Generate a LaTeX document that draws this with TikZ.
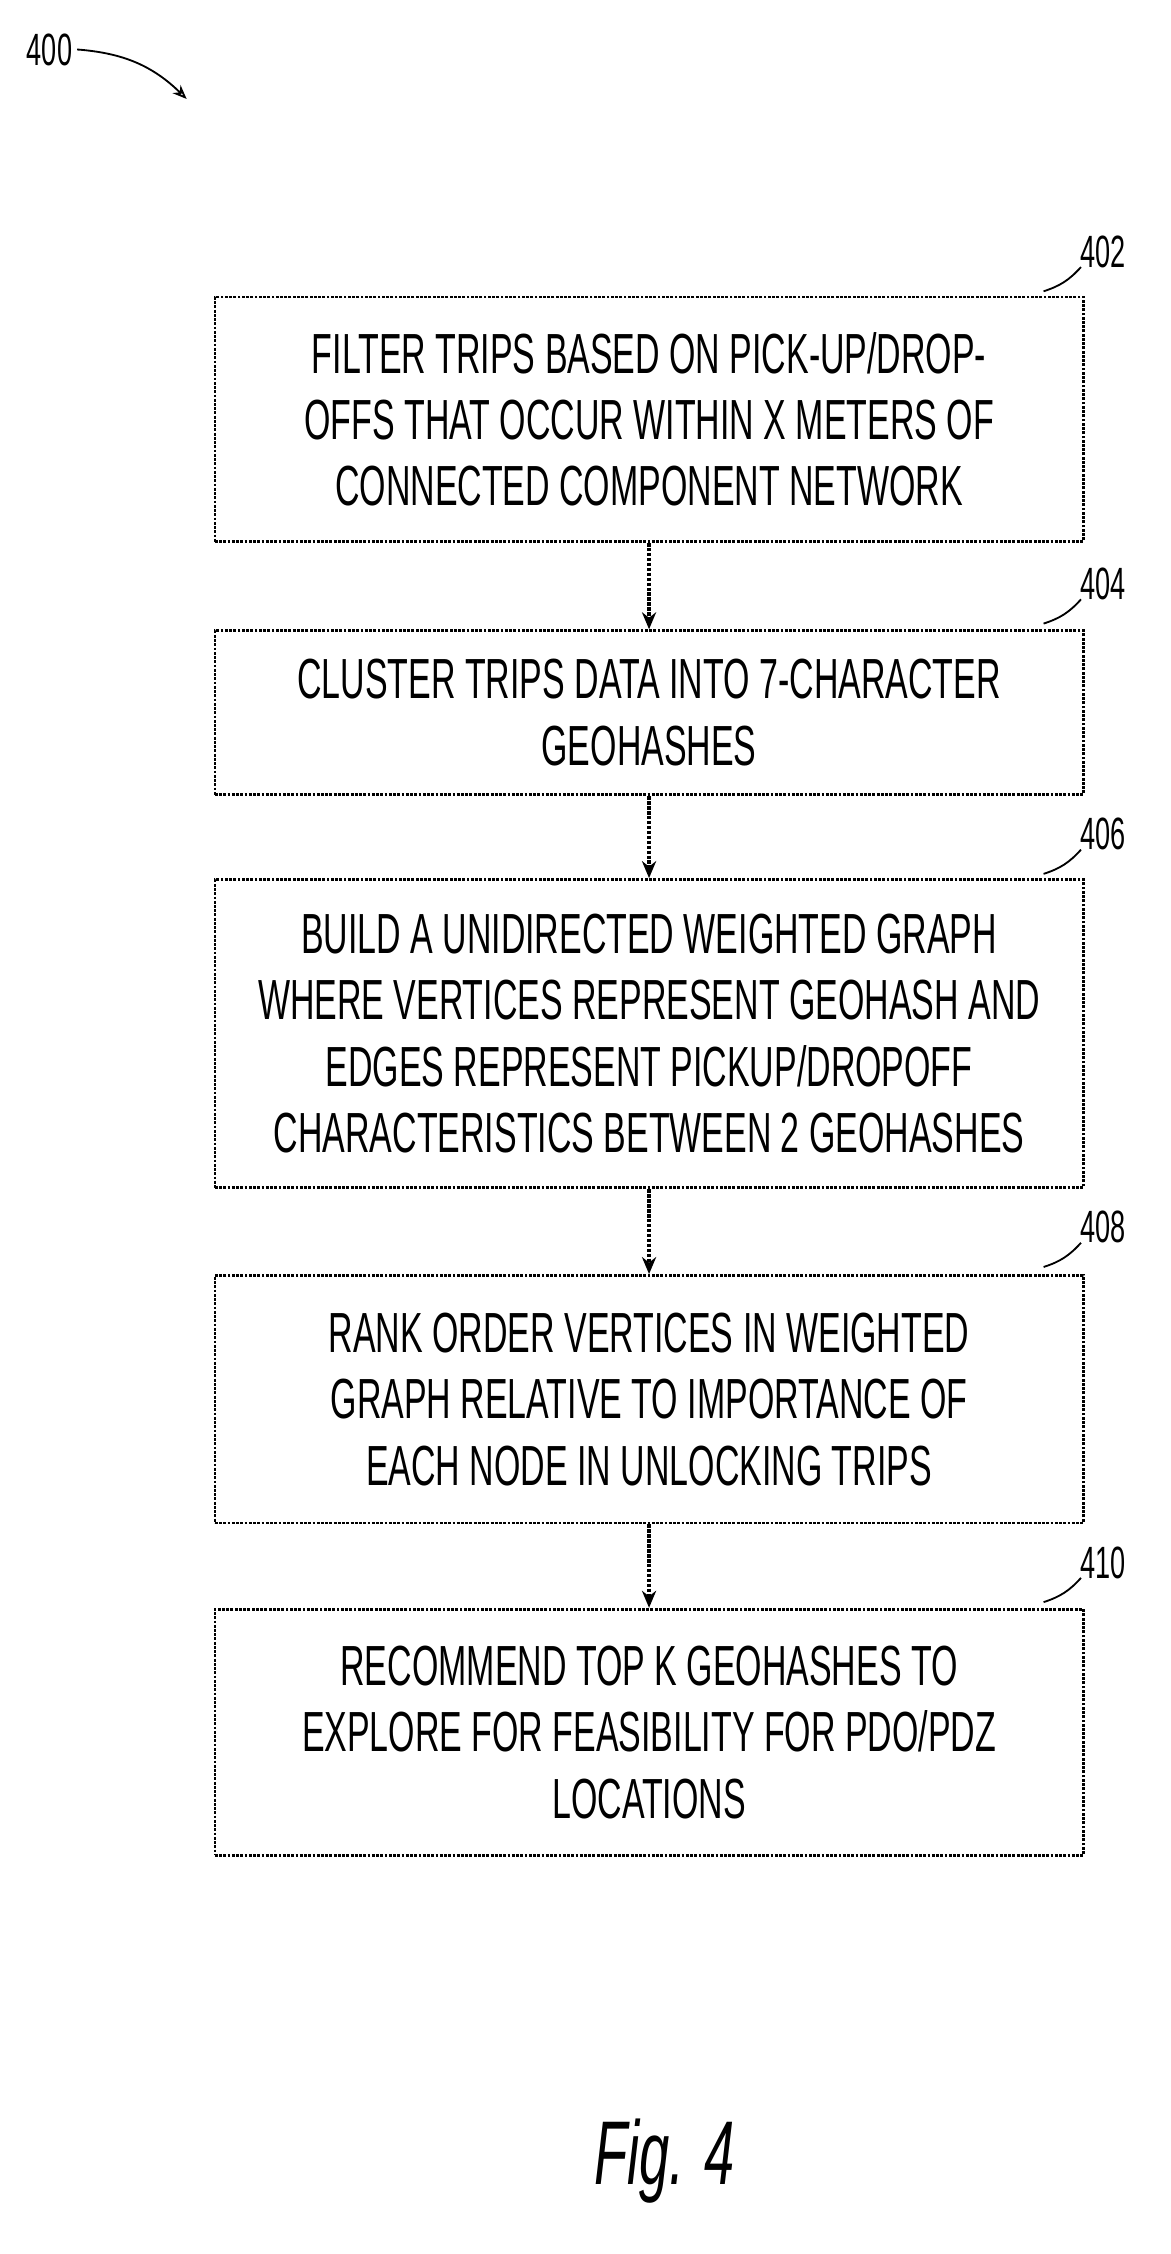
\documentclass[tikz,border=0pt]{standalone}
\usepackage{fontspec}
\setmainfont{Liberation Sans}[FakeStretch=0.6]
\usetikzlibrary{arrows,positioning}
\tikzset{
  stage/.style={draw,densely dotted,line width=2pt,minimum width=614pt,align=center,
    font=\fontsize{40}{47}\selectfont,inner sep=0pt},
  num/.style={font=\fontsize{32}{32}\selectfont},
  lead/.style={line width=1.3pt},
  flow/.style={-{Stealth[length=12pt,width=10pt]},densely dotted,line width=2.5pt}
}
\usetikzlibrary{arrows.meta}
\begin{document}
\begin{tikzpicture}[x=1pt,y=1pt]
\useasboundingbox (0,0) rectangle (828,-1594);
\node[stage,minimum height=173pt] (s402) at (459,-296.5) {FILTER TRIPS BASED ON PICK-UP/DROP-\\OFFS THAT OCCUR WITHIN X METERS OF\\CONNECTED COMPONENT NETWORK};
\node[stage,minimum height=116pt] (s404) at (459,-504) {CLUSTER TRIPS DATA INTO 7-CHARACTER\\GEOHASHES};
\node[stage,minimum height=218pt] (s406) at (459,-731) {BUILD A UNIDIRECTED WEIGHTED GRAPH\\WHERE VERTICES REPRESENT GEOHASH AND\\EDGES REPRESENT PICKUP/DROPOFF\\CHARACTERISTICS BETWEEN 2 GEOHASHES};
\node[stage,minimum height=175pt] (s408) at (459,-989.5) {RANK ORDER VERTICES IN WEIGHTED\\GRAPH RELATIVE TO IMPORTANCE OF\\EACH NODE IN UNLOCKING TRIPS};
\node[stage,minimum height=174pt] (s410) at (459,-1225) {RECOMMEND TOP K GEOHASHES TO\\EXPLORE FOR FEASIBILITY FOR PDO/PDZ\\LOCATIONS};
\draw[flow] (s402) -- (s404);
\draw[flow] (s404) -- (s406);
\draw[flow] (s406) -- (s408);
\draw[flow] (s408) -- (s410);
% reference numerals
\foreach \n/\y in {402/-178,404/-413,406/-590,408/-868,410/-1105}{
  \node[num] (l\n) at (780,\y) {\n};
  \coordinate (c\n) at (738,\y-28);
  \draw[lead] (l\n.south west) ++(4,4) to[bend left=15] (c\n);
}
\node[num] (l400) at (35,-35) {400};
\coordinate (c400) at (132,-70);
\draw[lead,-{Stealth[length=10pt,width=8pt,open]}] (l400.east) to[bend left=20] (c400);
\node[font=\itshape\fontsize{64}{64}\selectfont] (fig) at (470,-1528) {Fig. 4};
\end{tikzpicture}
\end{document}
